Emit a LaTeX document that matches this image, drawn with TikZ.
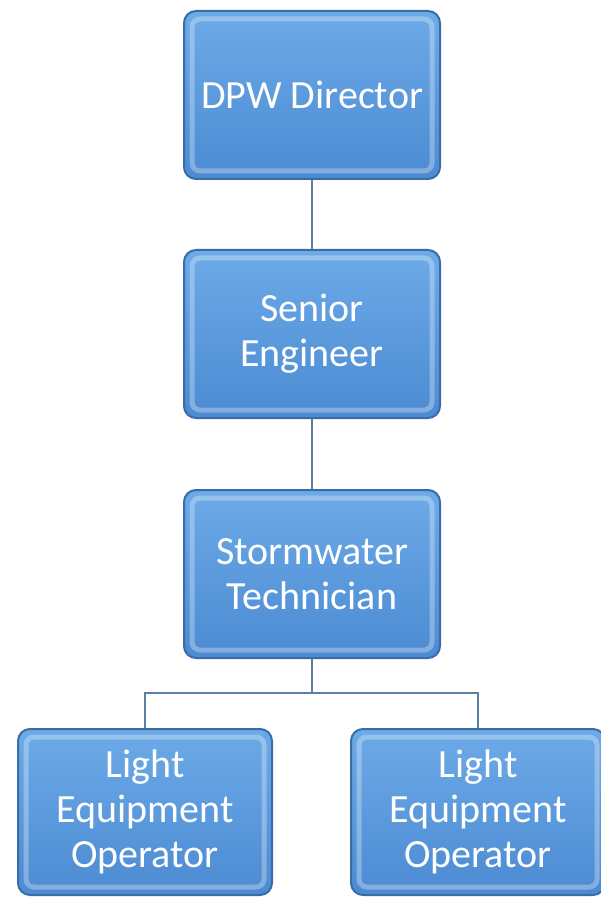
\documentclass[tikz,border=0pt]{standalone}
\usepackage{fontspec}
\setmainfont{Carlito}
\definecolor{boxtop}{HTML}{6CAAE8}
\definecolor{boxbot}{HTML}{4C8BD2}
\definecolor{boxrim}{HTML}{3A6DA6}
\definecolor{linkcol}{HTML}{5D7FA3}
\tikzset{
  posbox/.style={rounded corners=6pt, top color=boxtop, bottom color=boxbot, draw=boxrim, line width=1pt,
    minimum width=128pt, minimum height=84pt, align=center, text=white,
    font=\fontsize{20}{22.5}\selectfont, inner sep=2pt,
    path picture={\draw[white, opacity=0.3, line width=2.5pt, rounded corners=4pt]
      ([shift={(4pt,-4pt)}]path picture bounding box.north west) rectangle
      ([shift={(-4pt,4pt)}]path picture bounding box.south east);}},
  link/.style={draw=linkcol, line width=0.8pt}
}
\begin{document}
\begin{tikzpicture}[x=0.5pt, y=-0.5pt]
	\useasboundingbox (0,0) rectangle (600,898);
	\node[posbox] (director) at (312,95) {DPW Director};
	\node[posbox] (engineer) at (312,334) {Senior\\Engineer};
	\node[posbox] (tech) at (312,574) {Stormwater\\Technician};
	\node[posbox, minimum width=127pt, minimum height=83pt] (opleft) at (145,812) {Light\\Equipment\\Operator};
	\node[posbox, minimum width=127pt, minimum height=83pt] (opright) at (478,812) {Light\\Equipment\\Operator};
	\coordinate (bus) at (312,693);
	\draw[link] (director) -- (engineer); \draw[link] (engineer) -- (tech);
	\draw[link] (tech) -- (bus);
	\draw[link] (opleft.north) |- (bus) -| (opright.north);
\end{tikzpicture}
\end{document}
